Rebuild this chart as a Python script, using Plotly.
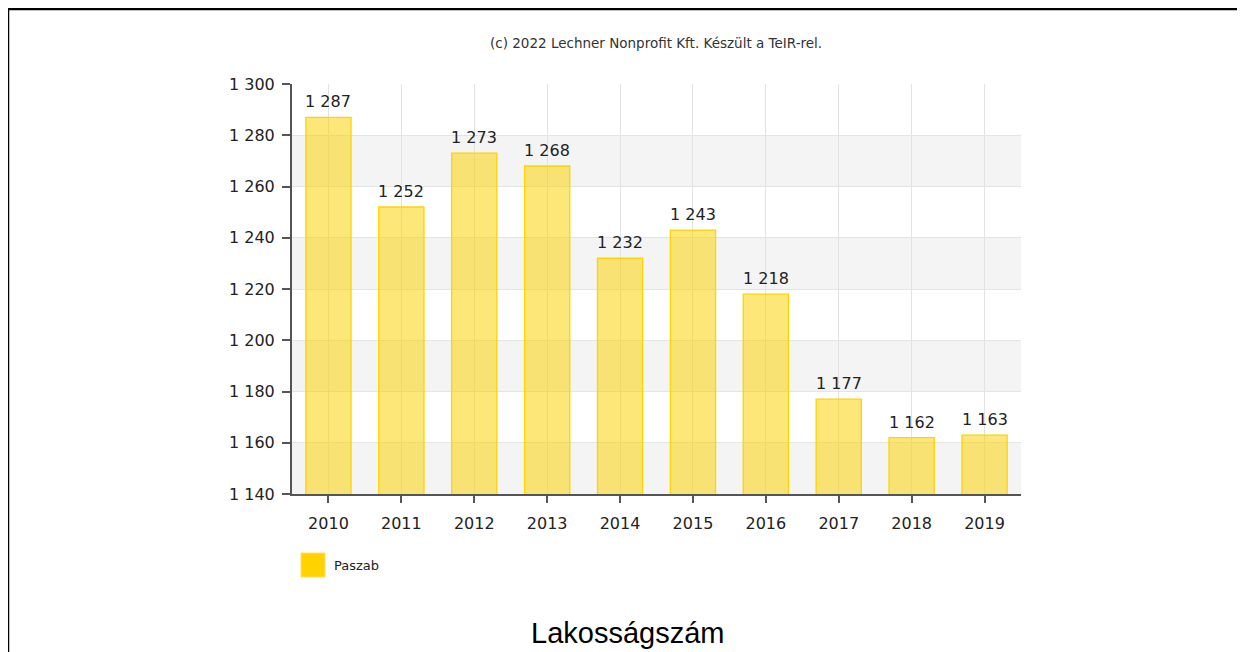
import plotly.graph_objects as go

years = ["2010", "2011", "2012", "2013", "2014", "2015", "2016", "2017", "2018", "2019"]
population = [1287, 1252, 1273, 1268, 1232, 1243, 1218, 1177, 1162, 1163]
series_name = "Paszab"
y_ticks = [1140, 1160, 1180, 1200, 1220, 1240, 1260, 1280, 1300]
title_text = "Lakosságszám"
credit_text = "(c) 2022 Lechner Nonprofit Kft. Készült a TeIR-rel."


def fmt(v):
    return f"{v:,}".replace(",", " ")


OFF = 8  # page body margin
W, H = 1245 - OFF, 652 - OFF
L, R, T, B = 292 - OFF, 1021 - OFF, 84 - OFF, 494 - OFF
pw, ph = R - L, B - T


def px(x):
    return (x - OFF - L) / pw


def py(y):
    return (B - (y - OFF)) / ph


fig = go.Figure()
fig.add_trace(go.Bar(
    x=years, y=population, name=series_name,
    marker=dict(color="rgba(250,210,0,0.53)", line=dict(color="#ffd400", width=1.3)),
    width=0.62, showlegend=False, hoverinfo="x+y",
))

shapes = []
for i in range(len(y_ticks) - 1):
    if i % 2 == 0:
        shapes.append(dict(type="rect", xref="paper", yref="y", x0=0, x1=1,
                           y0=y_ticks[i], y1=y_ticks[i + 1],
                           fillcolor="#f4f4f4", line=dict(width=0), layer="below"))
# frame (left and top)
shapes.append(dict(type="line", xref="paper", yref="paper", x0=px(8), x1=px(8),
                   y0=py(8), y1=py(660), line=dict(color="black", width=2.5)))
shapes.append(dict(type="line", xref="paper", yref="paper", x0=px(7), x1=px(1250),
                   y0=py(9), y1=py(9), line=dict(color="black", width=2.5)))
# legend swatch
shapes.append(dict(type="rect", xref="paper", yref="paper", x0=px(301), x1=px(325),
                   y0=py(577), y1=py(553), fillcolor="#ffd200",
                   line=dict(color="#ffe066", width=1)))

annotations = []
for i, v in enumerate(population):
    annotations.append(dict(x=i, y=v, xref="x", yref="y", text=fmt(v), showarrow=False,
                            yanchor="bottom", yshift=4,
                            font=dict(family="DejaVu Sans", size=16, color="#222")))
annotations.append(dict(x=px(656), y=py(43), xref="paper", yref="paper", text=credit_text,
                        xanchor="center", yanchor="middle", showarrow=False,
                        font=dict(family="DejaVu Sans", size=13.5, color="#333")))
annotations.append(dict(x=px(332), y=py(565), xref="paper", yref="paper", text=series_name,
                        xanchor="left", yanchor="middle", showarrow=False,
                        font=dict(family="DejaVu Sans", size=13, color="#222")))
annotations.append(dict(x=px(627), y=py(633), xref="paper", yref="paper", text=title_text,
                        xanchor="center", yanchor="middle", showarrow=False,
                        font=dict(family="Liberation Sans", size=29, color="black")))

fig.update_layout(
    width=W, height=H,
    margin=dict(l=L, r=W - R, t=T, b=H - B, pad=0),
    paper_bgcolor="white", plot_bgcolor="white",
    bargap=0.38,
    showlegend=False,
    shapes=shapes, annotations=annotations,
    font=dict(family="DejaVu Sans", size=16, color="#222"),
)
fig.update_xaxes(
    type="category", range=[-0.5, len(years) - 0.5], autorange=False,
    showgrid=True, gridcolor="#e2e2e2", gridwidth=1.3,
    showline=True, linecolor="#555", linewidth=2,
    ticks="outside", ticklen=7, tickcolor="#555", tickwidth=1.5,
    ticklabelstandoff=7, tickfont=dict(size=16, color="#222"),
)
fig.update_yaxes(
    range=[y_ticks[0], y_ticks[-1]], autorange=False, tickvals=y_ticks,
    ticktext=[fmt(v) for v in y_ticks],
    showgrid=True, gridcolor="#e4e4e4", gridwidth=1, zeroline=False,
    showline=True, linecolor="#555", linewidth=2,
    ticks="outside", ticklen=8, tickcolor="#555", tickwidth=1.5,
    ticklabelstandoff=4, tickfont=dict(size=16, color="#222"),
)
fig.write_html("out.html")
